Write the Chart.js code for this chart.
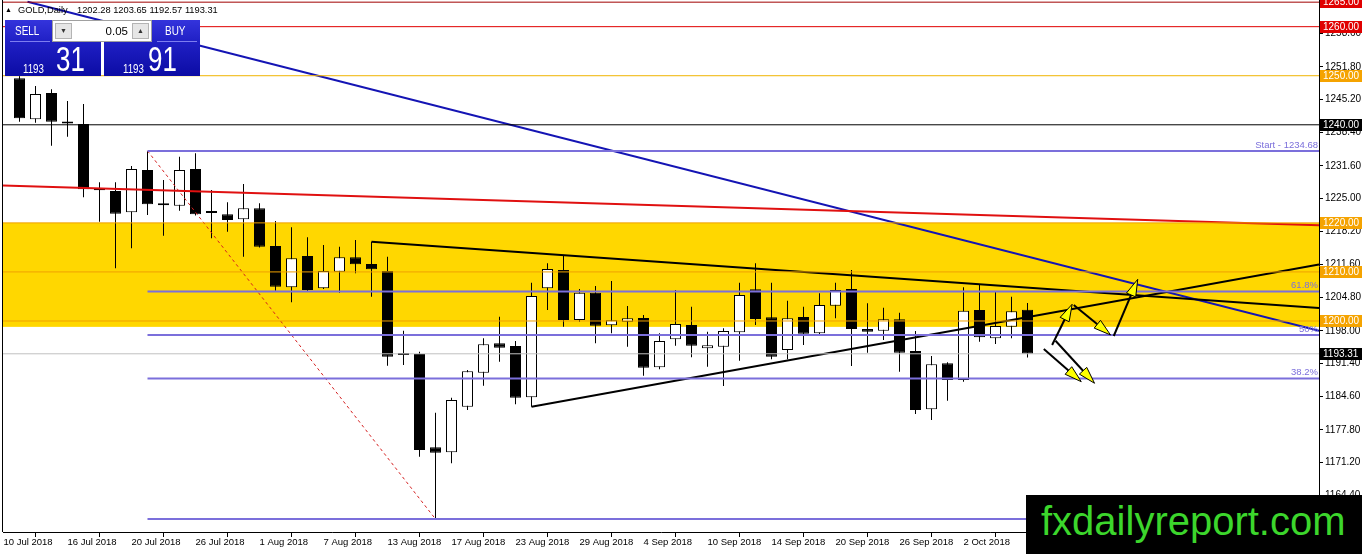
<!DOCTYPE html>
<html>
<head>
<meta charset="utf-8">
<title>GOLD Daily</title>
<script src="https://cdn.jsdelivr.net/npm/chart.js@4.4.1/dist/chart.umd.min.js"></script>
<style>
  body { margin: 0; background: #fff; }
  #wrap { position: relative; width: 1362px; height: 554px; overflow: hidden; font-family: "Liberation Sans", Arial, sans-serif; }
  #chart { position: absolute; left: 0; top: 0; }
  .title { position: absolute; left: 0; top: 3px; height: 14px; font-size: 9.3px; line-height: 14px; color: #000; white-space: nowrap; }
  .title span { position: absolute; top: 0; }
  .box { position: absolute; top: 20px; width: 96px; height: 56px; color: #fff;
         background: linear-gradient(to bottom, #3434dc 0%, #1f1fc4 40%, #0c0ca4 100%); }
  .box .lbl { position: absolute; top: 4px; font-size: 12px; line-height: 14px; transform: scaleX(0.83); transform-origin: left; }
  .box .sep { position: absolute; top: 21px; height: 1px; width: 40px; background: #7d7df0; }
  .box .small { position: absolute; top: 43px; font-size: 13px; line-height: 12px; transform: scaleX(0.75); transform-origin: left; }
  .box .big { position: absolute; top: 21px; font-size: 35px; line-height: 35px; transform: scaleX(0.74); transform-origin: left; }
  .lot { position: absolute; left: 52px; top: 20px; width: 100px; height: 22px; background: #fff;
         border: 1px solid #a0a0a0; box-sizing: border-box; }
  .lot .btn { position: absolute; top: 2px; width: 17px; height: 16px; background: #e6e6e6;
              border: 1px solid #b4b4b4; box-sizing: border-box; font-size: 7px; line-height: 14px;
              text-align: center; color: #333; }
  .lot .val { position: absolute; right: 23px; top: 3px; font-size: 11.5px; line-height: 14px; color: #000; }
  .logo { position: absolute; left: 1026px; top: 495px; width: 336px; height: 59px; background: #000; }
  .logo span { position: absolute; left: 15px; top: 3px; font-size: 40px; line-height: 46px; color: #3cd62c; white-space: nowrap; }
</style>
</head>
<body>
<div id="wrap">
  <canvas id="chart" width="1362" height="554"></canvas>

  <div class="title">
    <span style="left:5px;font-size:7px;">&#9650;</span>
    <span style="left:18px;">GOLD,Daily</span>
    <span style="left:77px;">1202.28 1203.65 1192.57 1193.31</span>
  </div>

  <div class="box" style="left:5px;">
    <div class="lbl" style="left:10px;">SELL</div>
    <div class="sep" style="left:5px;"></div>
    <div class="small" style="left:18px;">1193</div>
    <div class="big" style="left:51px;">31</div>
  </div>
  <div class="box" style="left:104px;">
    <div class="lbl" style="left:61px;">BUY</div>
    <div class="sep" style="left:53px;"></div>
    <div class="small" style="left:19px;">1193</div>
    <div class="big" style="left:44px;">91</div>
  </div>
  <div class="lot">
    <div class="btn" style="left:2px;">&#9660;</div>
    <div class="val">0.05</div>
    <div class="btn" style="right:2px;">&#9650;</div>
  </div>

  <div class="logo"><span>fxdailyreport.com</span></div>
</div>

<script>
'use strict';

// ---- data (bars 1..64, bar 0 = 10 Jul 2018) ----
const firstBar = 1;
const opens  = [1249.48, 1241.12, 1246.48, 1240.35, 1240.16, 1226.75, 1226.50, 1222.16, 1230.78, 1223.70,
                1223.50, 1230.99, 1222.12, 1221.75, 1220.73, 1222.97, 1215.29, 1206.87, 1213.25, 1206.66,
                1210.05, 1212.98, 1211.62, 1210.19, 1193.18, 1193.27, 1174.25, 1173.23, 1182.53, 1189.46,
                1195.45, 1194.90, 1184.44, 1206.66, 1210.40, 1200.20, 1205.77, 1199.12, 1199.86, 1200.61,
                1190.56, 1196.27, 1199.18, 1194.43, 1194.76, 1197.69, 1206.46, 1200.75, 1194.09, 1200.81,
                1197.49, 1203.12, 1206.52, 1198.37, 1198.02, 1200.34, 1193.88, 1182.00, 1191.37, 1187.97,
                1202.24, 1196.47, 1198.84, 1202.28];
const highs  = [1251.00, 1247.91, 1247.23, 1244.85, 1244.24, 1228.27, 1228.27, 1231.60, 1234.68, 1228.74,
                1233.49, 1234.19, 1226.71, 1224.20, 1227.93, 1223.99, 1220.39, 1219.10, 1217.06, 1215.49,
                1215.15, 1216.51, 1216.16, 1213.11, 1198.02, 1193.74, 1181.30, 1184.36, 1190.01, 1196.47,
                1200.87, 1195.92, 1207.81, 1211.76, 1213.45, 1206.52, 1207.13, 1208.15, 1203.06, 1201.22,
                1197.49, 1206.32, 1202.91, 1197.82, 1198.51, 1207.81, 1211.76, 1207.81, 1204.14, 1202.91,
                1205.65, 1207.81, 1210.40, 1203.61, 1202.71, 1201.69, 1197.96, 1192.86, 1191.58, 1206.87,
                1207.34, 1205.97, 1204.95, 1203.65];
const lows   = [1240.63, 1240.43, 1235.74, 1237.57, 1225.22, 1220.24, 1210.74, 1214.82, 1221.61, 1217.39,
                1222.49, 1221.51, 1216.86, 1218.20, 1213.11, 1214.98, 1206.18, 1203.81, 1205.97, 1206.52,
                1205.77, 1209.72, 1204.95, 1190.89, 1191.03, 1172.33, 1159.62, 1170.99, 1181.85, 1186.81,
                1191.70, 1183.02, 1182.53, 1202.24, 1198.84, 1199.86, 1195.45, 1197.49, 1194.76, 1188.85,
                1190.15, 1194.96, 1192.60, 1190.68, 1186.75, 1191.90, 1199.18, 1192.19, 1192.19, 1195.11,
                1197.35, 1200.55, 1190.82, 1193.54, 1196.12, 1189.66, 1181.04, 1179.82, 1183.75, 1187.62,
                1195.78, 1195.31, 1196.47, 1192.57];
const closes = [1241.32, 1246.28, 1240.63, 1240.25, 1226.85, 1226.65, 1221.87, 1230.99, 1223.79, 1223.60,
                1230.78, 1221.75, 1222.03, 1220.59, 1222.97, 1215.15, 1206.99, 1212.78, 1206.32, 1210.19,
                1212.98, 1211.56, 1210.54, 1192.72, 1193.08, 1173.70, 1173.15, 1183.89, 1189.74, 1195.25,
                1194.55, 1184.36, 1205.09, 1210.60, 1200.20, 1205.77, 1199.04, 1200.14, 1200.55, 1190.48,
                1195.92, 1199.39, 1194.96, 1195.04, 1197.96, 1205.30, 1200.41, 1192.72, 1200.55, 1197.41,
                1203.26, 1206.32, 1198.37, 1197.82, 1200.34, 1193.54, 1181.85, 1191.17, 1187.97, 1202.10,
                1196.68, 1198.98, 1201.98, 1193.31];

// date labels (every 4th bar)
const dateBars   = [0, 4, 8, 12, 16, 20, 24, 28, 32, 36, 40, 44, 48, 52, 56, 60];
const dateLabels = ['10 Jul 2018', '16 Jul 2018', '20 Jul 2018', '26 Jul 2018', '1 Aug 2018', '7 Aug 2018',
                    '13 Aug 2018', '17 Aug 2018', '23 Aug 2018', '29 Aug 2018', '4 Sep 2018', '10 Sep 2018',
                    '14 Sep 2018', '20 Sep 2018', '26 Sep 2018', '2 Oct 2018'];

// price scale ticks
const priceTicks = [1258.6, 1251.8, 1245.2, 1238.4, 1231.6, 1225.0, 1218.2, 1211.6, 1204.8, 1198.0,
                    1191.4, 1184.6, 1177.8, 1171.2, 1164.4];

// horizontal levels with their tag on the price scale
const levelValues = [1265, 1260, 1250, 1240, 1220, 1210, 1200, 1193.31];
const levelLine   = ['#a00000', '#e00000', '#f0b400', '#000000', '#f0a000', '#f0a000', '#f0a000', '#c0c0c0'];
const levelTag    = ['#e00000', '#e00000', '#f5a300', '#000000', '#f5a300', '#f5a300', '#f5a300', '#000000'];

// support / resistance zone
const zoneTop = 1220, zoneBottom = 1198.8;

// fibonacci retracement (high 20 Jul -> low 16 Aug)
const fibFromBar = 9, fibToBar = 27;
const fibHigh = 1234.68, fibLow = 1159.62;
const fibRatios = [1, 0.618, 0.5, 0.382, 0];
const fibNames  = ['Start - 1234.68', '61.8%', '50%', '38.2%', ''];

// trend lines [bar1, price1, bar2, price2]
const redLine   = [-0.03, 1227.63, 82.22, 1219.51];
const blueLine  = [1.5, 1265.09, 82.22, 1197.98];
const upperLine = [23, 1216.16, 82.22, 1202.65];
const lowerLine = [33, 1182.53, 82.22, 1211.54];

// arrows drawn on the chart [bar1, price1, bar2, price2]
const arrows = [
  [65.54, 1195.11, 66.79, 1203.41],
  [66.89, 1203.26, 69.19, 1197.15],
  [69.39, 1196.94, 70.89, 1208.50],
  [65.02, 1194.29, 67.36, 1187.63],
  [65.75, 1195.98, 68.19, 1187.30]
];

// ---- chart ----
const X_MIN = -0.03125, X_MAX = 82.21875;
const Y_MIN = 1156.98, Y_MAX = 1265.44;
const FONT = '"Liberation Sans", Arial, sans-serif';
const FIB_COLOR = '#7b6fdb';

var bodies = [], wicks = [], bodyColors = [];
for (var k = 0; k < opens.length; k++) {
  var bar = firstBar + k;
  bodies.push({ x: bar, y: [opens[k], closes[k]] });
  wicks.push({ x: bar, y: [lows[k], highs[k]] });
  bodyColors.push(closes[k] > opens[k] ? '#ffffff' : '#000000');
}

function seg(p, color, width, dash) {
  return {
    type: 'line',
    data: [{ x: p[0], y: p[1] }, { x: p[2], y: p[3] }],
    borderColor: color,
    borderWidth: width,
    borderDash: dash || [],
    pointRadius: 0,
    fill: false,
    order: 0
  };
}

var lineSets = [];
levelValues.forEach(function (v, n) {
  lineSets.push(seg([X_MIN, v, X_MAX, v], levelLine[n], 1));
});
fibRatios.forEach(function (r) {
  var v = fibLow + (fibHigh - fibLow) * r;
  lineSets.push(seg([fibFromBar, v, X_MAX, v], FIB_COLOR, 2));
});
lineSets.push(seg([fibFromBar, fibHigh, fibToBar, fibLow], '#d42020', 1, [3, 3]));
lineSets.push(seg(redLine, '#e01010', 2));
lineSets.push(seg(upperLine, '#000000', 2));
lineSets.push(seg(lowerLine, '#000000', 2));
lineSets.push(seg(blueLine, '#1414b4', 2));

function drawArrow(ctx, x1, y1, x2, y2) {
  var ang = Math.atan2(y2 - y1, x2 - x1);
  var len = 17, hw = 5;
  var bx = x2 - Math.cos(ang) * len, by = y2 - Math.sin(ang) * len;
  ctx.strokeStyle = '#000';
  ctx.lineWidth = 2;
  ctx.beginPath();
  ctx.moveTo(x1, y1);
  ctx.lineTo(bx, by);
  ctx.stroke();
  ctx.beginPath();
  ctx.moveTo(x2, y2);
  ctx.lineTo(bx + Math.sin(ang) * hw, by - Math.cos(ang) * hw);
  ctx.lineTo(bx - Math.sin(ang) * hw, by + Math.cos(ang) * hw);
  ctx.closePath();
  ctx.fillStyle = '#ffff00';
  ctx.fill();
  ctx.lineWidth = 1;
  ctx.stroke();
}

const mt4Plugin = {
  id: 'mt4',
  beforeDatasetsDraw: function (chart) {
    var ctx = chart.ctx, a = chart.chartArea, y = chart.scales.y;
    var t = y.getPixelForValue(zoneTop), b = y.getPixelForValue(zoneBottom);
    ctx.save();
    ctx.fillStyle = '#ffd700';
    ctx.fillRect(a.left, t, a.right - a.left, b - t);
    ctx.restore();
  },
  afterDatasetsDraw: function (chart) {
    var ctx = chart.ctx, a = chart.chartArea, x = chart.scales.x, y = chart.scales.y;
    ctx.save();
    // fibo level captions
    ctx.font = '9.5px ' + FONT;
    ctx.fillStyle = FIB_COLOR;
    ctx.textAlign = 'right';
    ctx.textBaseline = 'bottom';
    fibRatios.forEach(function (r, n) {
      if (!fibNames[n]) return;
      var py = y.getPixelForValue(fibLow + (fibHigh - fibLow) * r);
      ctx.fillText(fibNames[n], a.right - 1, py - 1);
    });
    // arrows
    arrows.forEach(function (p) {
      drawArrow(ctx, x.getPixelForValue(p[0]), y.getPixelForValue(p[1]),
                x.getPixelForValue(p[2]), y.getPixelForValue(p[3]));
    });
    ctx.restore();
  },
  afterDraw: function (chart) {
    var ctx = chart.ctx, a = chart.chartArea, y = chart.scales.y;
    ctx.save();
    // left frame
    ctx.fillStyle = '#000';
    ctx.fillRect(a.left - 1, a.top, 1, a.bottom - a.top);
    // level tags on the price scale
    ctx.font = '10px ' + FONT;
    ctx.textAlign = 'left';
    ctx.textBaseline = 'middle';
    levelValues.forEach(function (v, n) {
      var py = Math.round(y.getPixelForValue(v));
      ctx.fillStyle = levelTag[n];
      ctx.fillRect(a.right + 1, py - 6, chart.width - a.right - 1, 12);
      ctx.fillStyle = '#fff';
      ctx.fillText(v.toFixed(2), a.right + 4, py + 0.5);
    });
    ctx.restore();
  }
};

new Chart(document.getElementById('chart').getContext('2d'), {
  type: 'bar',
  data: {
    datasets: [
      {
        data: bodies,
        backgroundColor: bodyColors,
        borderColor: '#000',
        borderWidth: 1,
        borderSkipped: false,
        barThickness: 11,
        minBarLength: 2,
        inflateAmount: 0,
        grouped: false,
        order: 1
      },
      {
        data: wicks,
        backgroundColor: '#000',
        borderWidth: 0,
        barThickness: 1,
        inflateAmount: 0,
        grouped: false,
        order: 2
      }
    ].concat(lineSets)
  },
  options: {
    responsive: false,
    devicePixelRatio: 1,
    animation: false,
    layout: { padding: { left: 3, top: 0, right: 0, bottom: 0 } },
    plugins: {
      legend: { display: false },
      tooltip: { enabled: false }
    },
    scales: {
      x: {
        type: 'linear',
        min: X_MIN,
        max: X_MAX,
        offset: false,
        afterBuildTicks: function (scale) {
          scale.ticks = dateBars.map(function (v) { return { value: v }; });
        },
        afterFit: function (scale) {
          scale.height = 22;
          scale.paddingLeft = 0;
          scale.paddingRight = 0;
        },
        grid: { drawOnChartArea: false, drawTicks: true, tickLength: 5, color: '#000' },
        border: { display: true, color: '#000', width: 1 },
        ticks: {
          autoSkip: false,
          maxRotation: 0,
          align: 'start',
          padding: 0,
          color: '#000',
          font: { family: FONT, size: 9.5 },
          callback: function (value, index) { return dateLabels[index]; }
        }
      },
      y: {
        position: 'right',
        min: Y_MIN,
        max: Y_MAX,
        afterBuildTicks: function (scale) {
          scale.ticks = priceTicks.map(function (v) { return { value: v }; });
        },
        afterFit: function (scale) {
          scale.width = 43;
          scale.paddingTop = 0;
          scale.paddingBottom = 0;
        },
        grid: { drawOnChartArea: false, drawTicks: true, tickLength: 4, color: '#000' },
        border: { display: true, color: '#000', width: 1 },
        ticks: {
          padding: 2,
          color: '#000',
          font: { family: FONT, size: 10 },
          callback: function (value) { return Number(value).toFixed(2); }
        }
      }
    }
  },
  plugins: [mt4Plugin]
});
</script>
</body>
</html>
